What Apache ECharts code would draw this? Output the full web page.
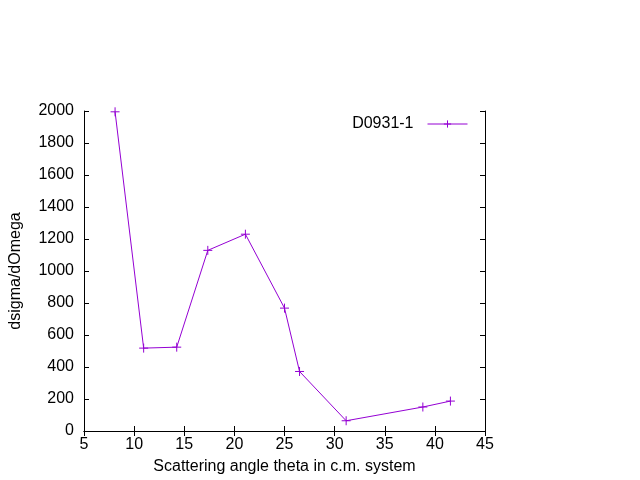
<!DOCTYPE html>
<html><head><meta charset="utf-8">
<script src="https://cdn.jsdelivr.net/npm/echarts@6/dist/echarts.min.js"></script>
<style>html,body{margin:0;padding:0;background:#fff}#c{width:640px;height:480px}</style>
</head><body><div id="c"></div>
<script>
const angles = [8.1, 10.95, 14.25, 17.35, 21.1, 25.0, 26.5, 31.15, 38.8, 41.55];
const dsigma = [1995, 518, 524, 1129, 1230, 768, 372, 64, 150, 187];
const seriesName = 'D0931-1';
const xTitle = 'Scattering angle theta in c.m. system';
const yTitle = 'dsigma/dOmega';

const font = 'Liberation Sans, Arial, sans-serif';
const fs = 16;
const purple = '#9400d3';
const plus = 'path://M0,5L10,5M5,0L5,10';
const axisLine = {show:true, lineStyle:{color:'#000', width:1}};
const tick = {show:true, inside:true, length:5, lineStyle:{color:'#000'}};
const chart = echarts.init(document.getElementById('c'), null, {renderer:'canvas'});
chart.setOption({
  animation:false,
  backgroundColor:'#fff',
  grid:{left:82, right:155, top:111, bottom:49, containLabel:false},
  legend:{
    show:true, right:167, top:111, orient:'horizontal', align:'right',
    itemWidth:40, itemHeight:9, itemGap:10,
    textStyle:{fontFamily:font, fontSize:fs, color:'#000', padding:[0,9,0,0]},
    lineStyle:{width:1, color:purple},
    itemStyle:{color:'none', borderColor:purple, borderWidth:1},
    data:[seriesName]
  },
  xAxis:[
    {type:'value', min:5, max:45, interval:5, position:'bottom',
     axisLine:axisLine, axisTick:tick, splitLine:{show:false},
     axisLabel:{fontFamily:font, fontSize:fs, color:'#000', margin:6},
     name:xTitle, nameLocation:'middle', nameGap:28,
     nameTextStyle:{fontFamily:font, fontSize:fs, color:'#000'}},
    {type:'value', min:5, max:45, interval:5, position:'top',
     axisLine:axisLine, axisTick:tick, axisLabel:{show:false}, splitLine:{show:false}}
  ],
  yAxis:[
    {type:'value', min:0, max:2000, interval:200, position:'left',
     axisLine:axisLine, axisTick:tick, splitLine:{show:false},
     axisLabel:{fontFamily:font, fontSize:fs, color:'#000', margin:10, formatter:v=>String(v)},
     name:yTitle, nameLocation:'middle', nameGap:60, nameRotate:90,
     nameTextStyle:{fontFamily:font, fontSize:fs, color:'#000'}},
    {type:'value', min:0, max:2000, interval:200, position:'right',
     axisLine:axisLine, axisTick:tick, axisLabel:{show:false}, splitLine:{show:false}}
  ],
  series:[{
    name:seriesName, type:'line',
    data: angles.map((a,i)=>[a, dsigma[i]]),
    symbol:plus, symbolSize:9, showSymbol:true,
    lineStyle:{color:purple, width:1},
    itemStyle:{color:'none', borderColor:purple, borderWidth:1},
    emphasis:{disabled:true}
  }]
});
</script></body></html>
